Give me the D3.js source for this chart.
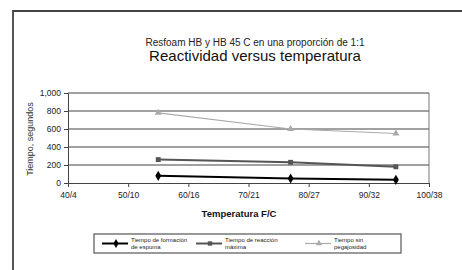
<!DOCTYPE html>
<html>
<head>
<meta charset="utf-8">
<script src="https://cdn.jsdelivr.net/npm/d3@7"></script>
<style>
  body { margin: 0; background: #fff; }
  svg { font-family: "Liberation Sans", Arial, sans-serif; }
</style>
</head>
<body>
<div id="chart"></div>
<script>
var temps = [55, 77, 94.5];
var espuma = [80, 50, 35];
var reaccion = [260, 230, 180];
var pegajosidad = [780, 600, 550];
var xTicks = [40, 50, 60, 70, 80, 90, 100];
var xTickLabels = ["40/4", "50/10", "60/16", "70/21", "80/27", "90/32", "100/38"];
var yTicks = [0, 200, 400, 600, 800, 1000];

var width = 462;
var height = 270;
var plot = {left: 68, right: 429, top: 93, bottom: 183};

var series = [
  {name: ["Tiempo de formación", "de espuma"], values: espuma, color: "#000", symbol: d3.symbolDiamond, size: 30, lw: 2},
  {name: ["Tiempo de reacción", "máxima"], values: reaccion, color: "#555", symbol: d3.symbolSquare, size: 24, lw: 2},
  {name: ["Tiempo sin", "pegajosidad"], values: pegajosidad, color: "#aaa", symbol: d3.symbolTriangle, size: 22, lw: 1.2}
];

var svg = d3.select("#chart").append("svg")
  .attr("width", width)
  .attr("height", height);

/* frame */
svg.append("path")
  .attr("d", `M13,${height + 5} L13,11 L${width + 5},11`)
  .attr("fill", "none")
  .attr("stroke", "#444")
  .attr("stroke-width", 1.8);

/* titles */
svg.append("text")
  .attr("x", 255).attr("y", 45.5)
  .attr("text-anchor", "middle")
  .attr("font-size", "10px")
  .attr("fill", "#222")
  .text("Resfoam HB y HB 45 C en una proporción de 1:1");

svg.append("text")
  .attr("x", 255).attr("y", 60.5)
  .attr("text-anchor", "middle")
  .attr("font-size", "15px")
  .attr("fill", "#111")
  .text("Reactividad versus temperatura");

/* scales */
var xScale = d3.scaleLinear().domain([40, 100]).range([plot.left, plot.right]);
var yScale = d3.scaleLinear().domain([0, 1000]).range([plot.bottom, plot.top]);

/* grid */
svg.append("g")
  .selectAll("line")
  .data(yTicks.slice(1)).enter()
  .append("line")
  .attr("x1", plot.left).attr("x2", plot.right)
  .attr("y1", d => yScale(d)).attr("y2", d => yScale(d))
  .attr("stroke", "#444")
  .attr("stroke-width", 1.1);

svg.append("line")
  .attr("x1", plot.right).attr("x2", plot.right)
  .attr("y1", plot.top).attr("y2", plot.bottom)
  .attr("stroke", "#777");

/* axes */
var xAxis = d3.axisBottom(xScale)
  .tickValues(xTicks)
  .tickFormat((d, i) => xTickLabels[i])
  .tickSize(4)
  .tickSizeOuter(0);

var yAxis = d3.axisLeft(yScale)
  .tickValues(yTicks)
  .tickFormat(d3.format(","))
  .tickSize(4)
  .tickSizeOuter(0);

var gx = svg.append("g")
  .attr("transform", `translate(0, ${plot.bottom})`)
  .call(xAxis);
gx.selectAll("text").attr("font-size", "8.5px").attr("fill", "#222").attr("dy", "0.9em");
gx.selectAll("line, path").attr("stroke", "#444");

var gy = svg.append("g")
  .attr("transform", `translate(${plot.left}, 0)`)
  .call(yAxis);
gy.selectAll("text").attr("font-size", "8.5px").attr("fill", "#222");
gy.selectAll("line, path").attr("stroke", "#444");

svg.append("text")
  .attr("x", 239).attr("y", 216.5)
  .attr("text-anchor", "middle")
  .attr("font-size", "9.5px")
  .attr("font-weight", "bold")
  .attr("fill", "#111")
  .text("Temperatura F/C");

svg.append("text")
  .attr("transform", "translate(33, 139) rotate(-90)")
  .attr("text-anchor", "middle")
  .attr("font-size", "9px")
  .attr("fill", "#333")
  .text("Tiempo, segundos");

/* lines and markers */
var line = d3.line()
  .x((d, i) => xScale(temps[i]))
  .y(d => yScale(d));

var groups = svg.append("g")
  .selectAll("g")
  .data(series).enter()
  .append("g");

groups.append("path")
  .attr("d", d => line(d.values))
  .attr("fill", "none")
  .attr("stroke", d => d.color)
  .attr("stroke-width", d => d.lw);

groups.each(function(s) {
  d3.select(this).selectAll("path.pt")
    .data(s.values).enter()
    .append("path")
    .attr("class", "pt")
    .attr("d", d3.symbol().type(s.symbol).size(s.size))
    .attr("transform", (d, i) => `translate(${xScale(temps[i])}, ${yScale(d)})`)
    .attr("fill", s.color);
});

/* legend */
var legend = svg.append("g");
legend.append("rect")
  .attr("x", 94).attr("y", 234)
  .attr("width", 307).attr("height", 19)
  .attr("fill", "none")
  .attr("stroke", "#555")
  .attr("stroke-width", 1.2);

var legendX = [102, 196, 305];
var items = legend.selectAll("g.item")
  .data(series).enter()
  .append("g")
  .attr("class", "item")
  .attr("transform", (d, i) => `translate(${legendX[i]}, 243.5)`);

items.append("line")
  .attr("x1", 0).attr("x2", 26)
  .attr("stroke", d => d.color)
  .attr("stroke-width", d => d.lw);

items.append("path")
  .attr("d", d => d3.symbol().type(d.symbol).size(d.size * 0.8)())
  .attr("transform", "translate(14, 0)")
  .attr("fill", d => d.color);

items.append("text")
  .attr("x", 29).attr("y", -2)
  .attr("font-size", "6px")
  .attr("fill", "#222")
  .text(d => d.name[0]);

items.append("text")
  .attr("x", 29).attr("y", 5.5)
  .attr("font-size", "6px")
  .attr("fill", "#222")
  .text(d => d.name[1]);
</script>
</body>
</html>
